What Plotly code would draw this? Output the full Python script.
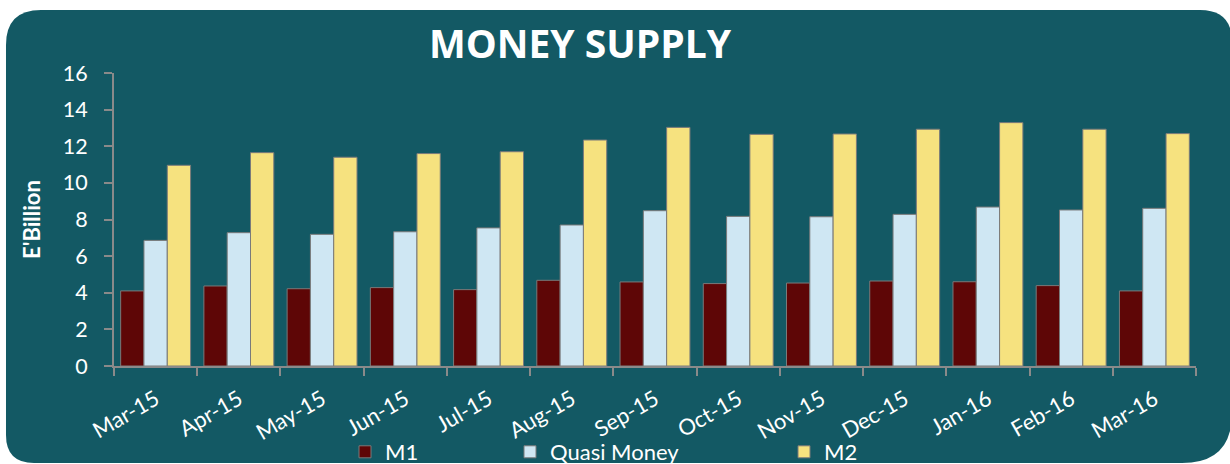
import plotly.graph_objects as go

months = ["Mar-15", "Apr-15", "May-15", "Jun-15", "Jul-15", "Aug-15", "Sep-15",
          "Oct-15", "Nov-15", "Dec-15", "Jan-16", "Feb-16", "Mar-16"]
m1 = [4.10, 4.37, 4.22, 4.28, 4.17, 4.68, 4.59, 4.50, 4.53, 4.64, 4.60, 4.39, 4.10]
quasi = [6.86, 7.28, 7.19, 7.33, 7.54, 7.70, 8.48, 8.17, 8.15, 8.28, 8.68, 8.52, 8.61]
m2 = [10.96, 11.65, 11.40, 11.60, 11.70, 12.34, 13.03, 12.65, 12.67, 12.93, 13.29, 12.93, 12.69]
yticks = [0, 2, 4, 6, 8, 10, 12, 14, 16]

W, H = 1230, 464
L, R, T, B = 114, 34, 73, 98
TEAL = "#135964"
FONT = "Lato"

def px_to_paper(px, py):
    return (px - L) / (W - L - R), (H - B - py) / (H - T - B)

def rounded_path(x0, y0, x1, y1, rtl, rtr, rbr, rbl):
    pts = [
        ("M", [(x0 + rtl, y0)]),
        ("L", [(x1 - rtr, y0)]),
        ("Q", [(x1, y0), (x1, y0 + rtr)]),
        ("L", [(x1, y1 - rbr)]),
        ("Q", [(x1, y1), (x1 - rbr, y1)]),
        ("L", [(x0 + rbl, y1)]),
        ("Q", [(x0, y1), (x0, y1 - rbl)]),
        ("L", [(x0, y0 + rtl)]),
        ("Q", [(x0, y0), (x0 + rtl, y0)]),
    ]
    s = ""
    for cmd, ps in pts:
        s += cmd + " " + " ".join("%.5f,%.5f" % px_to_paper(*p) for p in ps) + " "
    return s + "Z"

fig = go.Figure()
fig.add_trace(go.Bar(name="M1", x=months, y=m1, legend="legend",
                     marker=dict(color="#5E0606", line=dict(color="#7a7a7a", width=1))))
fig.add_trace(go.Bar(name="Quasi Money", x=months, y=quasi, legend="legend2",
                     marker=dict(color="#CFE7F3", line=dict(color="#7a7a7a", width=1))))
fig.add_trace(go.Bar(name="M2", x=months, y=m2, legend="legend3",
                     marker=dict(color="#F6E27F", line=dict(color="#7a7a7a", width=1))))

leg_common = dict(orientation="h", xref="container", yref="container", yanchor="middle",
                  xanchor="left", y=1 - 452 / H, bgcolor="rgba(0,0,0,0)",
                  font=dict(family=FONT, size=22, color="white"), itemwidth=30)
fig.update_layout(
    width=W, height=H, showlegend=True,
    margin=dict(l=L, r=R, t=T, b=B, autoexpand=False),
    paper_bgcolor="white", plot_bgcolor="rgba(0,0,0,0)",
    barmode="group", bargap=0.16, bargroupgap=0,
    font=dict(family=FONT, color="white"),
    title=dict(text="<b>MONEY SUPPLY</b>", x=580 / W, xanchor="center", xref="container",
               y=1 - 44 / H, yanchor="middle", yref="container",
               font=dict(family="Open Sans", size=39, color="white")),
    legend=dict(leg_common, x=(385 - 40) / W),
    legend2=dict(leg_common, x=(550 - 40) / W),
    legend3=dict(leg_common, x=(824 - 40) / W),
    xaxis=dict(showgrid=False, showline=True, linecolor="#8a8a8a", linewidth=2,
               ticks="outside", tickson="boundaries", ticklen=8, tickwidth=2, tickcolor="#8a8a8a",
               tickangle=-30, ticklabelstandoff=10,
               tickfont=dict(family=FONT, size=22, color="white")),
    yaxis=dict(range=[0, 16], tickvals=yticks, showgrid=False, zeroline=False,
               showline=True, linecolor="#8a8a8a", linewidth=2,
               ticks="outside", ticklen=8, tickwidth=2, tickcolor="#8a8a8a",
               ticklabelstandoff=12,
               tickfont=dict(family=FONT, size=21.5, color="white"),
               title=dict(text="<b>E'Billion</b>", standoff=16,
                          font=dict(family=FONT, size=22, color="white"))),
    shapes=[dict(type="path", xref="paper", yref="paper", layer="below",
                 path=rounded_path(6, 10, 1232, 463, 35, 32, 50, 28),
                 fillcolor=TEAL, line=dict(width=0))],
)
fig.write_html("out.html", config={"displayModeBar": False},
               post_script="document.body.style.margin='0';document.body.style.overflow='hidden';")
